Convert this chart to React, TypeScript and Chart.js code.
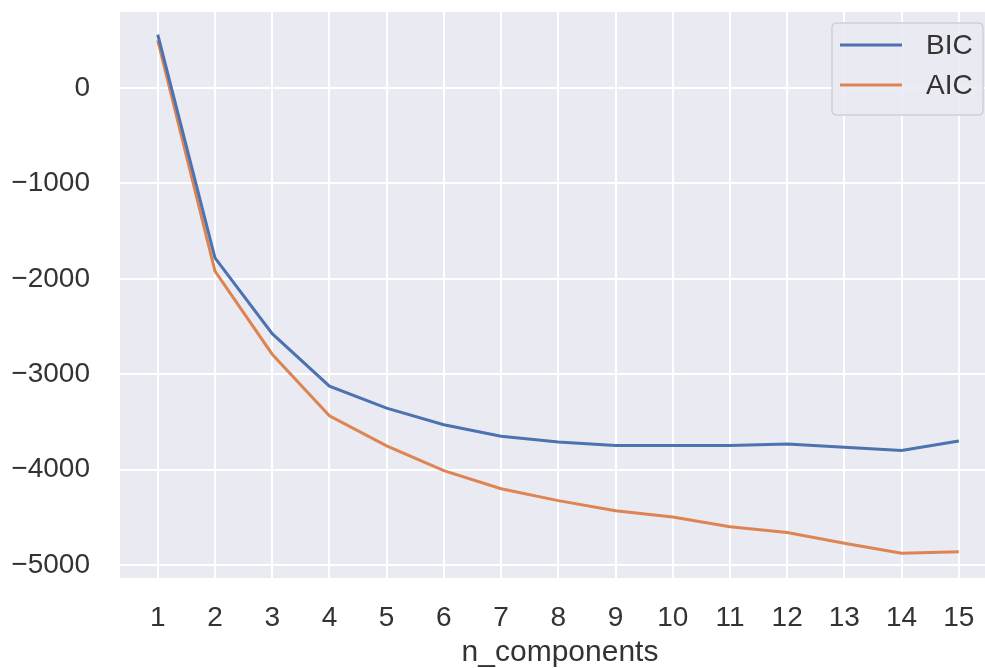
import React, { useEffect, useRef } from "react";
import { Chart, registerables } from "chart.js";

Chart.register(...registerables);

const nComponents = [1, 2, 3, 4, 5, 6, 7, 8, 9, 10, 11, 12, 13, 14, 15];
const bicValues = [560, -1780, -2575, -3125, -3355, -3530, -3650, -3710, -3748, -3748, -3748, -3732, -3765, -3800, -3700];
const aicValues = [500, -1920, -2790, -3435, -3750, -4010, -4200, -4325, -4430, -4497, -4598, -4660, -4772, -4876, -4860];
const yTickValues = [-5000, -4000, -3000, -2000, -1000, 0];
const seriesLabels = ["BIC", "AIC"];
const seriesColors = ["#4C72B0", "#DD8452"];

const FONT = "'Liberation Sans', Arial, sans-serif";
const TEXT_COLOR = "#333333";

const bgPlugin = {
  id: "plotBg",
  beforeDraw(chart: any) {
    const { ctx, chartArea } = chart;
    ctx.save();
    ctx.fillStyle = "#EAEAF2";
    ctx.fillRect(chartArea.left, chartArea.top, chartArea.right - chartArea.left, chartArea.bottom - chartArea.top);
    ctx.restore();
  },
};

const legendPlugin = {
  id: "innerLegend",
  afterDatasetsDraw(chart: any) {
    const { ctx, chartArea } = chart;
    const w = 151;
    const h = 92;
    const x = 983 - w;
    const y = chartArea.top + 11;
    const r = 5;
    ctx.save();
    ctx.beginPath();
    ctx.moveTo(x + r, y);
    ctx.lineTo(x + w - r, y);
    ctx.quadraticCurveTo(x + w, y, x + w, y + r);
    ctx.lineTo(x + w, y + h - r);
    ctx.quadraticCurveTo(x + w, y + h, x + w - r, y + h);
    ctx.lineTo(x + r, y + h);
    ctx.quadraticCurveTo(x, y + h, x, y + h - r);
    ctx.lineTo(x, y + r);
    ctx.quadraticCurveTo(x, y, x + r, y);
    ctx.closePath();
    ctx.fillStyle = "rgba(234,234,242,0.85)";
    ctx.fill();
    ctx.strokeStyle = "#cfcfd6";
    ctx.lineWidth = 1.5;
    ctx.stroke();
    chart.data.datasets.forEach((ds: any, i: number) => {
      const cy = y + 22 + i * 40;
      ctx.beginPath();
      ctx.strokeStyle = ds.borderColor;
      ctx.lineWidth = 3;
      ctx.moveTo(x + 8, cy);
      ctx.lineTo(x + 70, cy);
      ctx.stroke();
      ctx.fillStyle = TEXT_COLOR;
      ctx.font = `28px ${FONT}`;
      ctx.textBaseline = "middle";
      ctx.textAlign = "left";
      ctx.fillText(ds.label, x + 94, cy + 1);
    });
    ctx.restore();
  },
};

export default function App() {
  const ref = useRef<HTMLCanvasElement | null>(null);
  useEffect(() => {
    if (!ref.current) return;
    const series = [bicValues, aicValues];
    const chart = new Chart(ref.current, {
      type: "line",
      data: {
        datasets: series.map((vals, i) => ({
          label: seriesLabels[i],
          data: nComponents.map((n, j) => ({ x: n, y: vals[j] })),
          borderColor: seriesColors[i],
          backgroundColor: seriesColors[i],
          borderWidth: 3,
          pointRadius: 0,
          tension: 0,
        })),
      },
      options: {
        animation: false,
        responsive: false,
        devicePixelRatio: 1,
        layout: { padding: { top: 12, left: 0, right: 0, bottom: 0 } },
        plugins: { legend: { display: false }, tooltip: { enabled: false } },
        scales: {
          x: {
            type: "linear",
            min: 0.34,
            max: 15.72,
            afterBuildTicks: (scale: any) => {
              scale.ticks = nComponents.map((v) => ({ value: v }));
            },
            afterFit: (scale: any) => {
              scale.height = 90;
              scale.paddingLeft = 0;
              scale.paddingRight = 0;
            },
            grid: { color: "#ffffff", lineWidth: 2, drawTicks: false },
            border: { display: false },
            ticks: {
              padding: 23,
              color: TEXT_COLOR,
              font: { family: FONT, size: 28 },
              callback: (v: any) => String(v),
              maxRotation: 0,
              autoSkip: false,
            },
            title: {
              display: true,
              text: "n_components",
              color: TEXT_COLOR,
              font: { family: FONT, size: 30 },
              padding: { top: 0, bottom: -3 },
            },
          },
          y: {
            type: "linear",
            min: -5136,
            max: 797,
            afterBuildTicks: (scale: any) => {
              scale.ticks = yTickValues.map((v) => ({ value: v }));
            },
            afterFit: (scale: any) => {
              scale.width = 120;
              scale.paddingTop = 0;
              scale.paddingBottom = 0;
            },
            grid: { color: "#ffffff", lineWidth: 2, drawTicks: false },
            border: { display: false },
            ticks: {
              padding: 30,
              color: TEXT_COLOR,
              font: { family: FONT, size: 28 },
              callback: (v: any) => (Number(v) < 0 ? "\u2212" + Math.abs(Number(v)) : String(v)),
            },
          },
        },
      },
      plugins: [bgPlugin, legendPlugin],
    } as any);
    return () => chart.destroy();
  }, []);
  return (
    <div style={{ position: "fixed", left: 0, top: 0, width: 985, height: 668, overflow: "hidden", background: "#ffffff" }}>
      <canvas ref={ref} width={1000} height={668} style={{ display: "block" }} />
    </div>
  );
}
